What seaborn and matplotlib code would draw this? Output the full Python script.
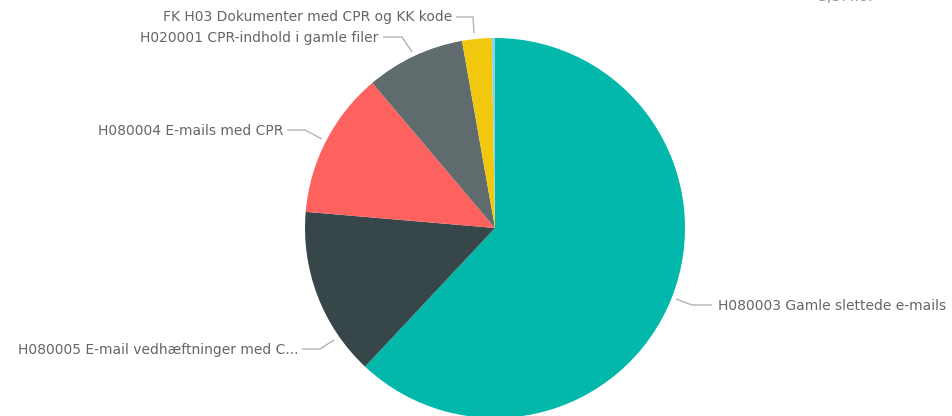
import matplotlib
matplotlib.use("Agg")
import matplotlib.pyplot as plt
import seaborn as sns

# ---- data ----
categories = [
    "H080003 Gamle slettede e-mails",
    "H080005 E-mail vedhæftninger med C...",
    "H080004 E-mails med CPR",
    "H020001 CPR-indhold i gamle filer",
    "FK H03 Dokumenter med CPR og KK kode",
    "Øvrige",
]
values = [205300, 47600, 41300, 27800, 8300, 900]
colors = ["#01B8AA", "#374649", "#FD625E", "#5F6B6D", "#F2C80F", "#8AD4EB"]
show_label = [True, True, True, True, True, False]

sns.set_theme(style="white")
plt.rcParams["font.family"] = ["DejaVu Sans"]

W, H = 953, 416
CX, CY, R = 495, 228, 190

fig = plt.figure(figsize=(W / 100, H / 100), dpi=100)
ax = fig.add_axes([0, 0, 1, 1])

wedges, _ = ax.pie(values, colors=colors, startangle=90, counterclock=False,
                   radius=1.0, wedgeprops=dict(linewidth=0))

def px(x, y):
    return ((x - CX) / R, (CY - y) / R)

ax.set_xlim(px(0, 0)[0], px(W, 0)[0])
ax.set_ylim(px(0, H)[1], px(0, 0)[1])
ax.set_aspect("auto")
ax.axis("off")

# leader-line layout (pixel positions) per label
layout = {
    0: dict(pts=[(676, 299), (692, 305), (712, 305)], text=(718, 306), ha="left"),
    1: dict(pts=[(334, 340), (320, 349), (302, 349)], text=(298, 350), ha="right"),
    2: dict(pts=[(322, 139), (305, 130), (287, 130)], text=(283, 131), ha="right"),
    3: dict(pts=[(412, 52), (402, 37), (383, 37)], text=(378, 38), ha="right"),
    4: dict(pts=[(474, 33), (473, 17), (456, 17)], text=(452, 17), ha="right"),
}

for i, cat in enumerate(categories):
    if not show_label[i]:
        continue
    L = layout[i]
    xs, ys = zip(*[px(x, y) for x, y in L["pts"]])
    ax.plot(xs, ys, color="#b3b3b3", lw=1.0, solid_capstyle="butt")
    tx, ty = px(*L["text"])
    ax.text(tx, ty, cat, ha=L["ha"], va="center", fontsize=10, color="#666666")

# clipped card text at top right
tx, ty = px(818, 4)
ax.text(tx, ty, "3,3Mio.", ha="left", va="bottom", fontsize=11, color="#999999")

fig.savefig("out.png", dpi=100)
